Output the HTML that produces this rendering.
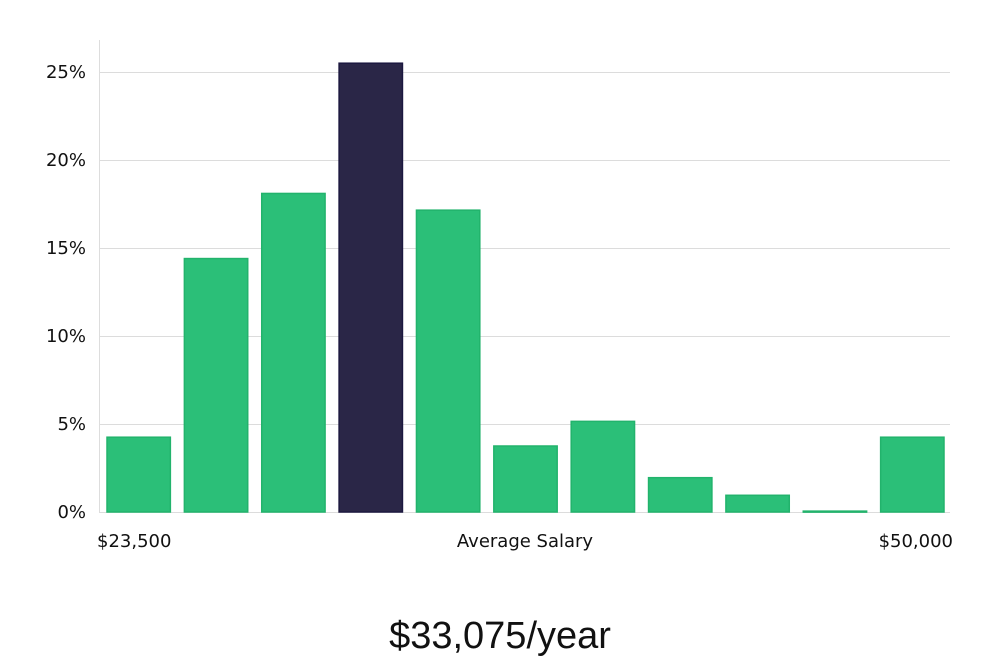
<!DOCTYPE html>
<html><head><meta charset="utf-8"><style>
html,body{margin:0;padding:0;background:#fff;}
body{width:1000px;height:660px;overflow:hidden;font-family:"DejaVu Sans","Liberation Sans",sans-serif;}
</style></head><body>
<svg id="chart" width="1000" height="660" xmlns="http://www.w3.org/2000/svg">
<g id="grid"></g>
<g id="yt"></g>
<g id="bars"></g>
<line x1="99.5" y1="40" x2="99.5" y2="512" stroke="#ddd" stroke-width="1"/>
<text x="97" y="547" font-size="18" fill="#111">$23,500</text>
<text x="525" y="547" font-size="18" fill="#111" text-anchor="middle">Average Salary</text>
<text x="953" y="547" font-size="18" fill="#111" text-anchor="end">$50,000</text>
<text x="500" y="648" font-size="38" fill="#111" text-anchor="middle" font-family="'Liberation Sans',sans-serif" font-weight="300">$33,075/year</text>
</svg>
<script>
const categories=["b1","b2","b3","b4","b5","b6","b7","b8","b9","b10","b11"];
const values=[4.25,14.4,18.1,25.5,17.15,3.75,5.15,1.95,0.95,0.05,4.25];
const highlight=[false,false,false,true,false,false,false,false,false,false,false];
const yTicks=[0,5,10,15,20,25];
const yTickLabels=["0%","5%","10%","15%","20%","25%"];
const NS="http://www.w3.org/2000/svg";
const x0=99,x1=950,yBase=512,pxPer=17.6;
const y=v=>yBase-v*pxPer;
const step=(x1-x0)/categories.length;
const xb=i=>x0+i*step+8;
const bw=step-14;
const grid=document.getElementById('grid'),yt=document.getElementById('yt'),bars=document.getElementById('bars');
yTicks.forEach((t,i)=>{
  const l=document.createElementNS(NS,'line');
  
  
  l.setAttribute('x1',x0);l.setAttribute('x2',x1);
  l.setAttribute('y1',Math.round(y(t))+0.5);l.setAttribute('y2',Math.round(y(t))+0.5);
  l.setAttribute('stroke','#dcdcdc');
  grid.appendChild(l);
  const tx=document.createElementNS(NS,'text');
  
  
  tx.setAttribute('x',86);tx.setAttribute('y',y(t)+6);
  tx.setAttribute('text-anchor','end');tx.setAttribute('font-size','18');tx.setAttribute('fill','#111');
  tx.textContent=yTickLabels[i];
  yt.appendChild(tx);
});
values.forEach((v,i)=>{
  const r=document.createElementNS(NS,'rect');
  
  
  r.setAttribute('x',xb(i));r.setAttribute('width',bw);
  r.setAttribute('y',y(v));r.setAttribute('height',Math.max(v*pxPer,1));
  r.setAttribute('fill',highlight[i]?'#2a2647':'#2bbf78');
  r.setAttribute('stroke',highlight[i]?'#1c1840':'#22b36c');
  r.setAttribute('stroke-width','1.5');
  bars.appendChild(r);
});
</script>
</body></html>
